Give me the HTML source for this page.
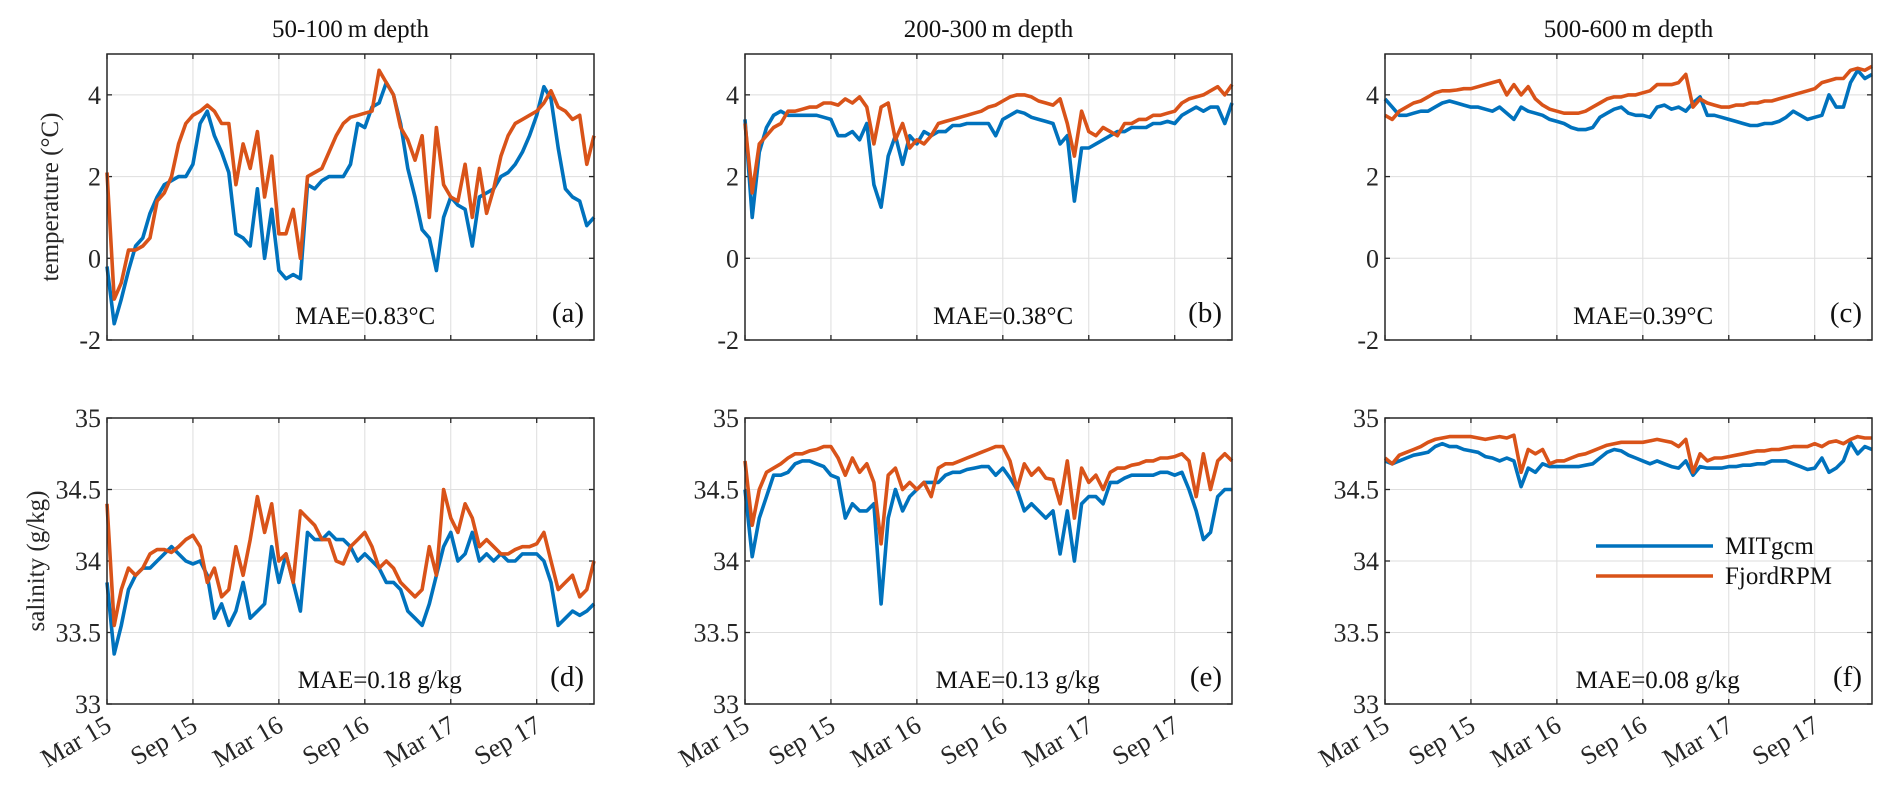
<!DOCTYPE html>
<html><head><meta charset="utf-8"><style>
body{margin:0;background:#fff;}
svg{display:block;font-family:"Liberation Serif",serif;}
</style></head><body>
<svg id="fig" width="1892" height="791" viewBox="0 0 1892 791"></svg>
<script>
// months since 1 Mar 2015, sampled every half month (0..34)
const tickLabels=["Mar 15","Sep 15","Mar 16","Sep 16","Mar 17","Sep 17"];
const tickMonths=[0,6,12,18,24,30];
const tempTicks=[-2,0,2,4];
const salTicks=[33,33.5,34,34.5,35];
const titles=["50-100\u2009m depth","200-300\u2009m depth","500-600\u2009m depth"];
const maeTemp=["MAE=0.83\u00B0C","MAE=0.38\u00B0C","MAE=0.39\u00B0C"];
const maeSal=["MAE=0.18 g/kg","MAE=0.13 g/kg","MAE=0.08 g/kg"];
const tA_mit=[-0.2,-1.6,-1.0,-0.3,0.3,0.5,1.1,1.5,1.8,1.9,2.0,2.0,2.3,3.3,3.6,3.0,2.6,2.1,0.6,0.5,0.3,1.7,0.0,1.2,-0.3,-0.5,-0.4,-0.5,1.8,1.7,1.9,2.0,2.0,2.0,2.3,3.3,3.2,3.7,3.8,4.3,4.0,3.3,2.2,1.5,0.7,0.5,-0.3,1.0,1.5,1.3,1.2,0.3,1.5,1.6,1.7,2.0,2.1,2.3,2.6,3.0,3.5,4.2,3.9,2.7,1.7,1.5,1.4,0.8,1.0];
const tA_rpm=[2.1,-1.0,-0.6,0.2,0.2,0.3,0.5,1.4,1.6,2.0,2.8,3.3,3.5,3.6,3.75,3.6,3.3,3.3,1.8,2.8,2.2,3.1,1.5,2.5,0.6,0.6,1.2,0.0,2.0,2.1,2.2,2.6,3.0,3.3,3.45,3.5,3.55,3.6,4.6,4.3,4.0,3.2,2.9,2.4,3.0,1.0,3.2,1.8,1.5,1.4,2.3,1.0,2.2,1.1,1.7,2.5,3.0,3.3,3.4,3.5,3.6,3.8,4.1,3.7,3.6,3.4,3.5,2.3,3.0];
const tB_mit=[3.4,1.0,2.6,3.2,3.5,3.6,3.5,3.5,3.5,3.5,3.5,3.45,3.4,3.0,3.0,3.1,2.9,3.3,1.8,1.25,2.5,3.0,2.3,3.0,2.8,3.1,3.0,3.1,3.1,3.25,3.25,3.3,3.3,3.3,3.3,3.0,3.4,3.5,3.6,3.55,3.45,3.4,3.35,3.3,2.8,3.0,1.4,2.7,2.7,2.8,2.9,3.0,3.1,3.1,3.2,3.2,3.2,3.3,3.3,3.35,3.3,3.5,3.6,3.7,3.6,3.7,3.7,3.3,3.8];
const tB_rpm=[3.3,1.6,2.8,3.0,3.2,3.3,3.6,3.6,3.65,3.7,3.7,3.8,3.8,3.75,3.9,3.8,3.95,3.7,2.8,3.7,3.8,2.9,3.3,2.7,2.9,2.8,3.0,3.3,3.35,3.4,3.45,3.5,3.55,3.6,3.7,3.75,3.85,3.95,4.0,4.0,3.95,3.85,3.8,3.75,3.9,3.3,2.5,3.6,3.1,3.0,3.2,3.1,3.0,3.3,3.3,3.4,3.4,3.5,3.5,3.55,3.6,3.8,3.9,3.95,4.0,4.1,4.2,4.0,4.25];
const tC_mit=[3.9,3.7,3.5,3.5,3.55,3.6,3.6,3.7,3.8,3.85,3.8,3.75,3.7,3.7,3.65,3.6,3.7,3.55,3.4,3.7,3.6,3.55,3.5,3.4,3.35,3.3,3.2,3.15,3.15,3.2,3.45,3.55,3.65,3.7,3.55,3.5,3.5,3.45,3.7,3.75,3.65,3.7,3.6,3.8,3.95,3.5,3.5,3.45,3.4,3.35,3.3,3.25,3.25,3.3,3.3,3.35,3.45,3.6,3.5,3.4,3.45,3.5,4.0,3.7,3.7,4.3,4.6,4.4,4.5];
const tC_rpm=[3.5,3.4,3.6,3.7,3.8,3.85,3.95,4.05,4.1,4.1,4.12,4.15,4.15,4.2,4.25,4.3,4.35,4.0,4.25,4.0,4.2,3.9,3.75,3.65,3.6,3.55,3.55,3.55,3.6,3.7,3.8,3.9,3.95,3.95,4.0,4.0,4.05,4.1,4.25,4.25,4.25,4.3,4.5,3.7,3.9,3.8,3.75,3.7,3.7,3.75,3.75,3.8,3.8,3.85,3.85,3.9,3.95,4.0,4.05,4.1,4.15,4.3,4.35,4.4,4.4,4.6,4.65,4.6,4.7];
const sD_mit=[33.85,33.35,33.55,33.8,33.9,33.95,33.95,34.0,34.05,34.1,34.05,34.0,33.98,34.0,33.9,33.6,33.7,33.55,33.65,33.85,33.6,33.65,33.7,34.1,33.85,34.05,33.85,33.65,34.2,34.15,34.15,34.2,34.15,34.15,34.1,34.0,34.05,34.0,33.95,33.85,33.85,33.8,33.65,33.6,33.55,33.7,33.9,34.1,34.2,34.0,34.05,34.2,34.0,34.05,34.0,34.05,34.0,34.0,34.05,34.05,34.05,34.0,33.85,33.55,33.6,33.65,33.62,33.65,33.7];
const sD_rpm=[34.4,33.55,33.8,33.95,33.9,33.95,34.05,34.08,34.08,34.06,34.1,34.15,34.18,34.1,33.85,33.95,33.75,33.8,34.1,33.9,34.15,34.45,34.2,34.4,34.0,34.05,33.85,34.35,34.3,34.25,34.15,34.15,34.0,33.98,34.1,34.15,34.2,34.1,33.95,34.0,33.95,33.85,33.8,33.75,33.8,34.1,33.9,34.5,34.3,34.2,34.4,34.3,34.1,34.15,34.1,34.05,34.05,34.08,34.1,34.1,34.12,34.2,34.0,33.8,33.85,33.9,33.75,33.8,34.0];
const sE_mit=[34.5,34.03,34.3,34.45,34.6,34.6,34.62,34.68,34.7,34.7,34.68,34.66,34.6,34.58,34.3,34.4,34.35,34.35,34.4,33.7,34.3,34.5,34.35,34.45,34.5,34.55,34.55,34.55,34.6,34.62,34.62,34.64,34.65,34.66,34.66,34.6,34.65,34.58,34.5,34.35,34.4,34.35,34.3,34.35,34.05,34.35,34.0,34.4,34.45,34.45,34.4,34.55,34.55,34.58,34.6,34.6,34.6,34.6,34.62,34.62,34.6,34.62,34.5,34.35,34.15,34.2,34.45,34.5,34.5];
const sE_rpm=[34.7,34.25,34.5,34.62,34.65,34.68,34.72,34.75,34.75,34.77,34.78,34.8,34.8,34.72,34.6,34.72,34.62,34.68,34.55,34.12,34.6,34.65,34.5,34.55,34.5,34.55,34.45,34.65,34.68,34.68,34.7,34.72,34.74,34.76,34.78,34.8,34.8,34.7,34.5,34.68,34.6,34.65,34.58,34.57,34.4,34.7,34.3,34.65,34.55,34.6,34.5,34.62,34.65,34.65,34.67,34.68,34.7,34.7,34.72,34.72,34.73,34.75,34.7,34.45,34.75,34.5,34.7,34.75,34.7];
const sF_mit=[34.7,34.68,34.7,34.72,34.74,34.75,34.76,34.8,34.82,34.8,34.8,34.78,34.77,34.76,34.73,34.72,34.7,34.72,34.7,34.52,34.65,34.62,34.68,34.66,34.66,34.66,34.66,34.66,34.67,34.68,34.72,34.76,34.78,34.77,34.74,34.72,34.7,34.68,34.7,34.68,34.66,34.65,34.7,34.6,34.66,34.65,34.65,34.65,34.66,34.66,34.67,34.67,34.68,34.68,34.7,34.7,34.7,34.68,34.66,34.64,34.65,34.72,34.62,34.65,34.7,34.83,34.75,34.8,34.78];
const sF_rpm=[34.72,34.68,34.74,34.76,34.78,34.8,34.83,34.85,34.86,34.87,34.87,34.87,34.87,34.86,34.85,34.86,34.87,34.86,34.88,34.62,34.78,34.75,34.78,34.68,34.7,34.7,34.72,34.74,34.75,34.77,34.79,34.81,34.82,34.83,34.83,34.83,34.83,34.84,34.85,34.84,34.83,34.8,34.85,34.62,34.75,34.7,34.72,34.72,34.73,34.74,34.75,34.76,34.77,34.77,34.78,34.78,34.79,34.8,34.8,34.8,34.82,34.8,34.83,34.84,34.82,34.85,34.87,34.86,34.86];

const NS="http://www.w3.org/2000/svg";
const svg=document.getElementById('fig');
const BLUE="#0072BD",ORANGE="#D95319";
const lefts=[107,745,1385],W=487;
const rows=[{top:54,bot:340,min:-2,max:5,ticks:tempTicks},{top:418,bot:704,min:33,max:35,ticks:salTicks}];
const MONTHS=34;
function mk(tag,attrs,parent){const e=document.createElementNS(NS,tag);for(const k in attrs)e.setAttribute(k,attrs[k]);(parent||svg).appendChild(e);return e;}
const series=[[tA_mit,tA_rpm],[tB_mit,tB_rpm],[tC_mit,tC_rpm],[sD_mit,sD_rpm],[sE_mit,sE_rpm],[sF_mit,sF_rpm]];
const letters=["(a)","(b)","(c)","(d)","(e)","(f)"];
for(let r=0;r<2;r++){
 const R=rows[r];
 const yS=v=>R.bot-(v-R.min)/(R.max-R.min)*(R.bot-R.top);
 for(let c=0;c<3;c++){
  const L=lefts[c];
  const xS=m=>L+m/MONTHS*W;
  const g=mk('g',{});
  
  
  tickMonths.forEach(m=>{const l=mk('line',{x1:xS(m),x2:xS(m),y1:R.top,y2:R.bot,stroke:'#dedede','stroke-width':1},g);
   
   mk('line',{x1:xS(m),x2:xS(m),y1:R.bot,y2:R.bot-5,stroke:'#262626','stroke-width':1.3},g);
   mk('line',{x1:xS(m),x2:xS(m),y1:R.top,y2:R.top+5,stroke:'#262626','stroke-width':1.3},g);});
  R.ticks.forEach(v=>{const l=mk('line',{x1:L,x2:L+W,y1:yS(v),y2:yS(v),stroke:'#dedede','stroke-width':1},g);
   
   mk('line',{x1:L,x2:L+5,y1:yS(v),y2:yS(v),stroke:'#262626','stroke-width':1.3},g);
   mk('line',{x1:L+W-5,x2:L+W,y1:yS(v),y2:yS(v),stroke:'#262626','stroke-width':1.3},g);
   const t=mk('text',{x:L-6,y:yS(v)+9,'text-anchor':'end','font-size':26,fill:'#262626'},g);t.textContent=String(v);
   });
  const sr=series[r*3+c];
  [[sr[0],BLUE,'mitgcm-line'],[sr[1],ORANGE,'fjordrpm-line']].forEach(([arr,col,nm])=>{
   const d=arr.map((v,i)=>(i?'L':'M')+xS(i*0.5).toFixed(1)+' '+yS(v).toFixed(1)).join(' ');
   const p=mk('path',{d:d,fill:'none',stroke:col,'stroke-width':3.6,'stroke-linejoin':'round'},g);
   });
  mk('rect',{x:L,y:R.top,width:W,height:R.bot-R.top,fill:'none',stroke:'#262626','stroke-width':1.5},g);
  const lt=mk('text',{x:L+W-10,y:R.bot-18,'text-anchor':'end','font-size':29,fill:'#111'},g);lt.textContent=letters[r*3+c];
  
  const mt=mk('text',{x:L+W*(r?0.56:0.53),y:R.bot-16,'text-anchor':'middle','font-size':25,fill:'#111'},g);mt.textContent=(r?maeSal:maeTemp)[c];
  
  if(r===0){const tt=mk('text',{x:L+W/2,y:37,'text-anchor':'middle','font-size':25,fill:'#111'},g);tt.textContent=titles[c];
   }
  else{tickMonths.forEach((m,i)=>{const x=xS(m)+6,y=R.bot+26;
   const t=mk('text',{x:x,y:y,'text-anchor':'end','font-size':26,fill:'#262626',transform:'rotate(-30 '+x+' '+y+')'},g);t.textContent=tickLabels[i];
   });}
 }
}
const yl1=mk('text',{x:0,y:0,'text-anchor':'middle','font-size':25,fill:'#262626',transform:'translate(58 197) rotate(-90)'});yl1.textContent='temperature (\u00B0C)';

const yl2=mk('text',{x:0,y:0,'text-anchor':'middle','font-size':25,fill:'#262626',transform:'translate(44 561) rotate(-90)'});yl2.textContent='salinity (g/kg)';

const lg=mk('g',{});


[['MITgcm',BLUE,546],['FjordRPM',ORANGE,576]].forEach(([n,col,y])=>{
 const l=mk('line',{x1:1596,x2:1713,y1:y,y2:y,stroke:col,'stroke-width':3.6},lg);
 
 const t=mk('text',{x:1725,y:y+8,'font-size':25,fill:'#111'},lg);t.textContent=n;
 });
</script>
</body></html>
